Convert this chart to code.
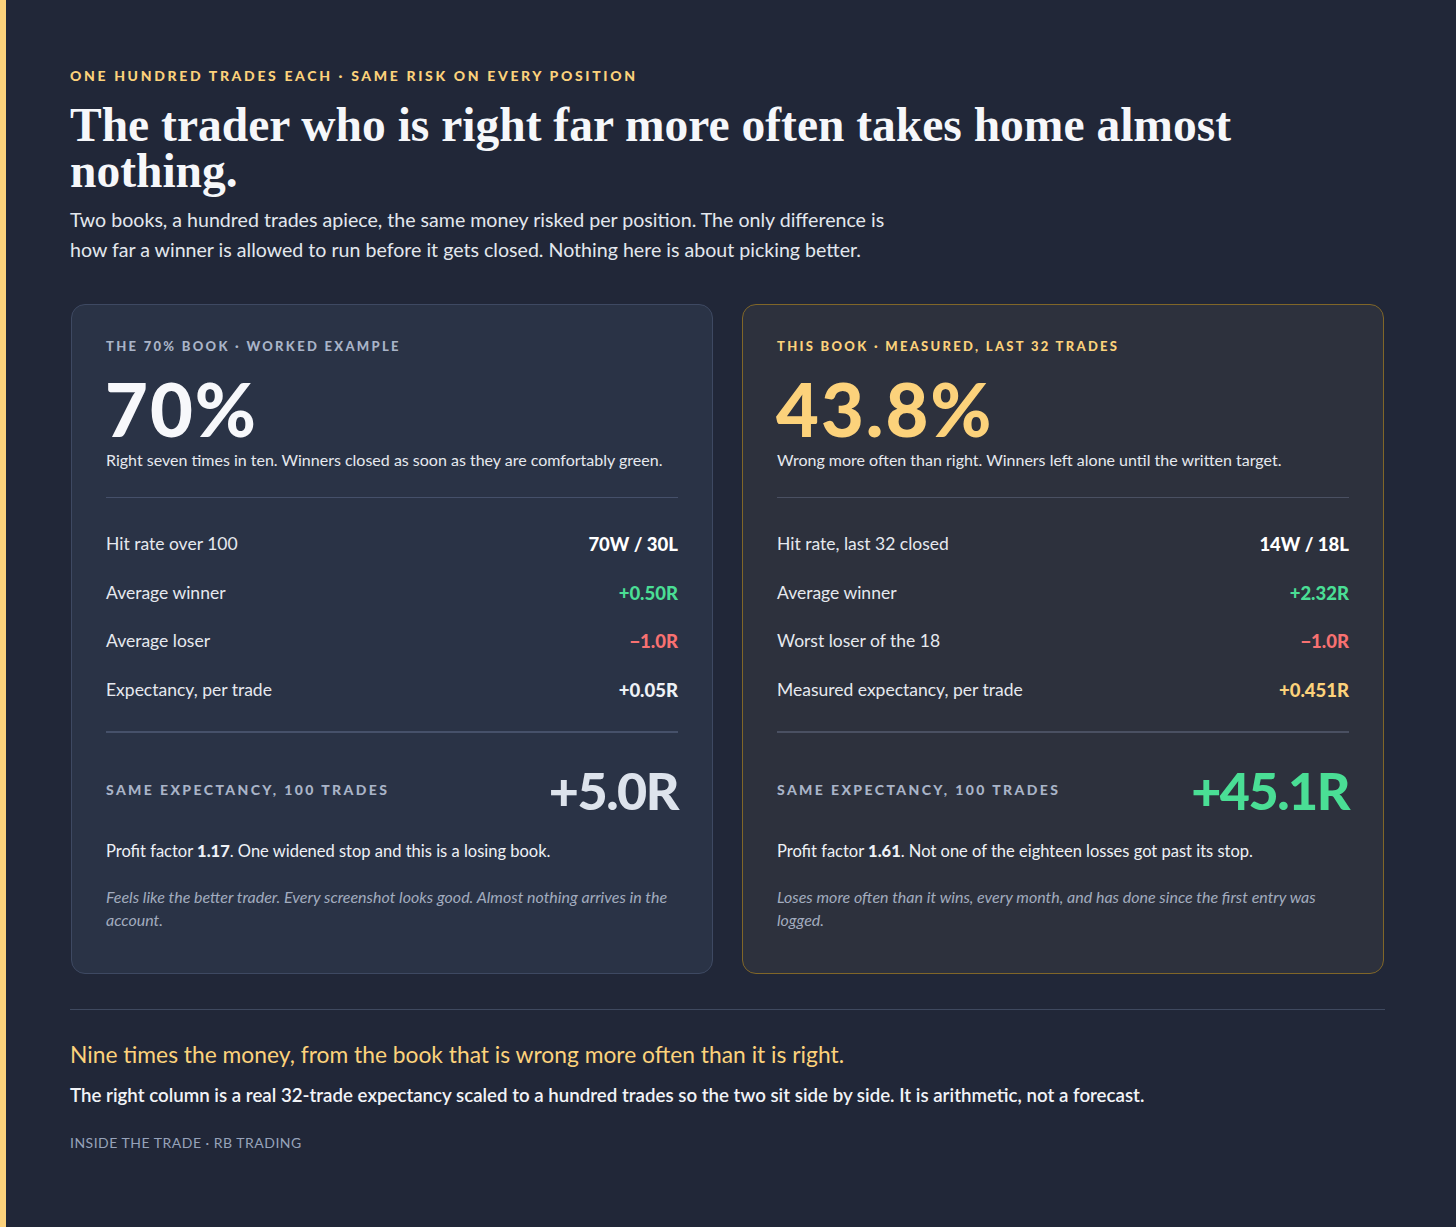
<!DOCTYPE html>
<html>
<head>
<meta charset="utf-8">
<script src="https://cdn.jsdelivr.net/npm/chart.js@4.4.1/dist/chart.umd.min.js"></script>
<style>
  html, body { margin: 0; padding: 0; }
  body {
    width: 1456px; height: 1227px; overflow: hidden;
    background: #212738; color: #eef1f6;
    font-family: Lato, "Noto Sans", sans-serif;
    position: relative;
  }
  .stripe { position: absolute; left: 0; top: 0; bottom: 0; width: 6px; background: #fcd27b; }
  .wrap { position: absolute; left: 70px; top: 0; width: 1315px; }
  .kicker { position: absolute; top: 67px; font-size: 14px; font-weight: 900; letter-spacing: 2.65px; color: #fcd27b; white-space: nowrap; }
  h1 { position: absolute; top: 102px; margin: 0; font-family: "Liberation Serif", Georgia, serif; font-weight: 700; font-size: 47.5px; line-height: 46px; color: #f6f7fa; width: 1210px; }
  .sub { position: absolute; top: 205px; margin: 0; font-size: 19.6px; line-height: 30px; color: #e3e7ee; width: 835px; }
  .card { position: absolute; top: 304px; width: 642px; height: 670px; box-sizing: border-box; border-radius: 14px; }
  .card.a { left: 71px; background: #2a3346; border: 1px solid #3e4962; }
  .card.b { left: 742px; background: #2d313d; border: 1px solid #806628; }
  .lab { position: absolute; left: 34px; top: 33px; font-size: 13px; font-weight: 900; letter-spacing: 2.3px; color: #a9b4c8; white-space: nowrap; }
  .b .lab { color: #fcd27b; }
  .big { position: absolute; left: 33px; top: 66px; font-size: 74px; font-weight: 900; line-height: 76px; color: #f7f8fb; letter-spacing: 2px; }
  .b .big { color: #fcd27b; }
  .desc { position: absolute; left: 34px; top: 145px; font-size: 16px; color: #e6e9ef; white-space: nowrap; }
  .hr1 { position: absolute; left: 34px; right: 34px; top: 192px; height: 1px; background: #45506a; }
  .b .hr1 { background: #4a5062; }
  .rows { position: absolute; left: 34px; right: 34px; top: 228px; }
  .row { height: 48.7px; display: flex; justify-content: space-between; font-size: 17.5px; color: #e6e9ef; }
  .row .v { font-weight: 900; font-size: 18.5px; }
  .hr2 { position: absolute; left: 34px; right: 34px; top: 426px; height: 2px; background: #46516a; }
  .b .hr2 { background: #4a5062; }
  .lab2 { position: absolute; left: 34px; top: 476px; font-size: 14px; font-weight: 900; letter-spacing: 2.4px; color: #a9b4c8; white-space: nowrap; }
  .tot { position: absolute; right: 34px; top: 455px; font-size: 52px; font-weight: 900; line-height: 60px; color: #dde3ec; letter-spacing: -1.5px; }
  .b .tot { color: #4ade95; }
  .pf { position: absolute; left: 34px; top: 536px; font-size: 16.5px; color: #eef1f6; white-space: nowrap; }
  .pf b { font-weight: 900; }
  .note { position: absolute; left: 34px; width: 572px; top: 580px; font-size: 16px; line-height: 23px; font-style: italic; color: #a2acbf; }
  .hr3 { position: absolute; left: 70px; width: 1315px; top: 1009px; height: 1px; background: #3f495f; }
  .concl { position: absolute; left: 70px; top: 1040px; font-size: 22.8px; color: #fcd27b; white-space: nowrap; }
  .concl2 { position: absolute; left: 70px; top: 1084px; font-size: 18.7px; font-weight: 600; color: #f1f3f7; white-space: nowrap; }
  .foot { position: absolute; left: 70px; top: 1134px; font-size: 14px; letter-spacing: 0.5px; color: #97a3ba; white-space: nowrap; }
</style>
</head>
<body>
<div class="stripe"></div>
<div class="wrap">
  <div class="kicker">ONE HUNDRED TRADES EACH · SAME RISK ON EVERY POSITION</div>
  <h1>The trader who is right far more often takes home almost nothing.</h1>
  <p class="sub">Two books, a hundred trades apiece, the same money risked per position. The only difference is how far a winner is allowed to run before it gets closed. Nothing here is about picking better.</p>
</div>
<div id="cards"></div>
<div class="hr3"></div>
<div class="concl">Nine times the money, from the book that is wrong more often than it is right.</div>
<div class="concl2">The right column is a real 32-trade expectancy scaled to a hundred trades so the two sit side by side. It is arithmetic, not a forecast.</div>
<div class="foot">INSIDE THE TRADE · RB TRADING</div>

<script>
// Two books, same risk per position
const books = ['a', 'b'];
const bookLabels = ['THE 70% BOOK · WORKED EXAMPLE', 'THIS BOOK · MEASURED, LAST 32 TRADES'];
const hitRates = ['70%', '43.8%'];
const descriptions = [
  'Right seven times in ten. Winners closed as soon as they are comfortably green.',
  'Wrong more often than right. Winners left alone until the written target.'
];
const rowLabels = [
  ['Hit rate over 100', 'Average winner', 'Average loser', 'Expectancy, per trade'],
  ['Hit rate, last 32 closed', 'Average winner', 'Worst loser of the 18', 'Measured expectancy, per trade']
];
const rowValues = [
  ['70W / 30L', '+0.50R', '\u22121.0R', '+0.05R'],
  ['14W / 18L', '+2.32R', '\u22121.0R', '+0.451R']
];
const rowColors = [
  ['#ffffff', '#4ade95', '#f87171', '#eef1f6'],
  ['#ffffff', '#4ade95', '#f87171', '#fcd27b']
];
const totals = ['+5.0R', '+45.1R'];
const profitFactors = ['1.17', '1.61'];
const pfTexts = ['. One widened stop and this is a losing book.', '. Not one of the eighteen losses got past its stop.'];
const notes = [
  'Feels like the better trader. Every screenshot looks good. Almost nothing arrives in the account.',
  'Loses more often than it wins, every month, and has done since the first entry was logged.'
];

const host = document.getElementById('cards');
books.forEach((k, i) => {
  const c = document.createElement('div');
  c.className = 'card ' + k;
  let rows = '';
  rowLabels[i].forEach((l, j) => {
    rows += '<div class="row"><span>' + l + '</span><span class="v" style="color:' + rowColors[i][j] + '">' + rowValues[i][j] + '</span></div>';
  });
  c.innerHTML =
    '<div class="lab">' + bookLabels[i] + '</div>' +
    '<div class="big">' + hitRates[i] + '</div>' +
    '<div class="desc">' + descriptions[i] + '</div>' +
    '<div class="hr1"></div>' +
    '<div class="rows">' + rows + '</div>' +
    '<div class="hr2"></div>' +
    '<div class="lab2">SAME EXPECTANCY, 100 TRADES</div>' +
    '<div class="tot">' + totals[i] + '</div>' +
    '<div class="pf">Profit factor <b>' + profitFactors[i] + '</b>' + pfTexts[i] + '</div>' +
    '<div class="note">' + notes[i] + '</div>';
  host.appendChild(c);
});
</script>
</body>
</html>
